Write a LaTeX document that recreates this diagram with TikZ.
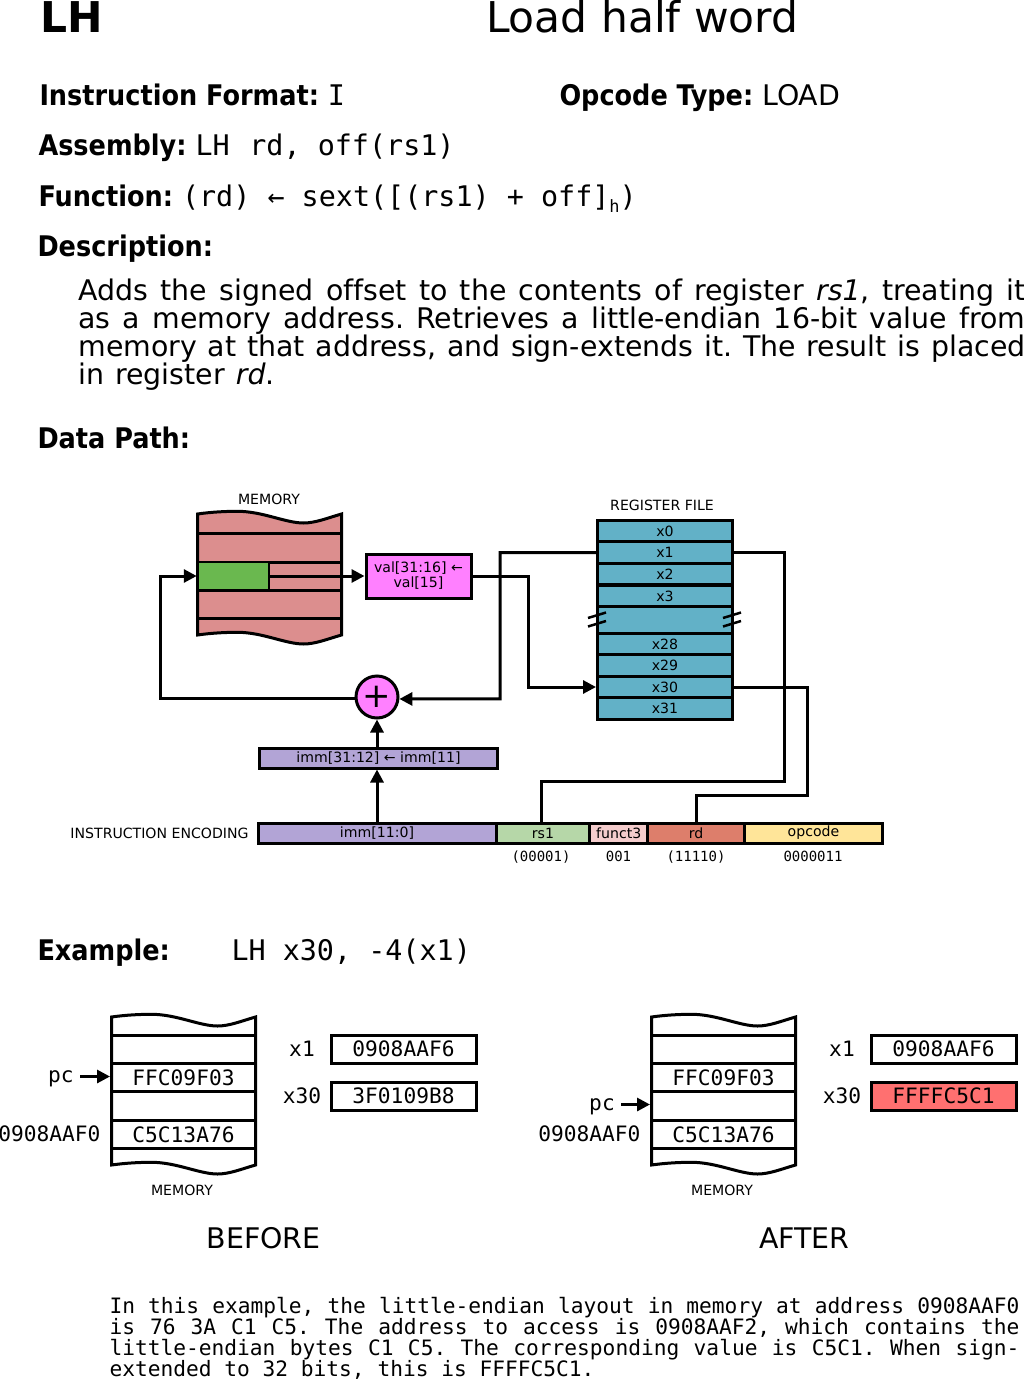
\documentclass[tikz,border=0pt]{standalone}
\usepackage{fontspec}
\setmainfont[Ligatures=NoCommon]{DejaVu Sans}
\newfontfamily\codefont{DejaVu Sans Mono}
\newfontfamily\headfont{DejaVu Sans Condensed}
\usetikzlibrary{arrows.meta}
\definecolor{memfill}{HTML}{DC8E8E}
\definecolor{cellfill}{HTML}{6AB84F}
\definecolor{unitfill}{HTML}{FF80FF}
\definecolor{regfill}{HTML}{62B1C7}
\definecolor{immfill}{HTML}{B2A4D6}
\definecolor{rsfill}{HTML}{B6D7A8}
\definecolor{funcfill}{HTML}{F4CCCC}
\definecolor{rdfill}{HTML}{DD7E6B}
\definecolor{opfill}{HTML}{FFE599}
\definecolor{newfill}{HTML}{FF7070}
\newcommand{\bigsize}{\fontsize{28.4}{28}\selectfont}
\newcommand{\smallsize}{\fontsize{14.1}{15}\selectfont}
\newcommand{\codesize}{\codefont\fontsize{21.2}{22}\selectfont}
\newcommand{\headbold}[1]{{\headfont\bfseries #1}}
\newcommand{\memstack}[5]{
	\draw[fill=#4] (#1,#2) .. controls +(14,-2) and +(-12,0) .. ++(40,-2.7)
		.. controls +(25,0) and +(-18,0) .. ++(66,11.7)
		.. controls +(12,0) and +(-14,4) .. ++(38,-9)
		-- (#1+144,#3)
		.. controls +(-14,4) and +(12,0) .. ++(-38,9)
		.. controls +(-18,0) and +(25,0) .. ++(-66,-11.7)
		.. controls +(-12,0) and +(14,-2) .. ++(-40,2.7)
		-- cycle;
	\foreach \ry in {#5} \draw (#1,\ry) -- (#1+144,\ry);
}
\tikzset{
	heading/.style={anchor=base west,inner sep=0pt,font=\bigsize},
	box/.style={draw,inner sep=0pt,font=\smallsize},
	regrow/.style={box,fill=regfill,minimum width=135,minimum height=21.6},
	field/.style={box,minimum height=20},
	label/.style={inner sep=0pt,font=\smallsize},
	bits/.style={inner sep=0pt,font=\codefont\fontsize{14}{15}\selectfont,text height=10,text depth=3},
	memrow/.style={inner sep=0pt,minimum width=144,minimum height=28,font=\codesize},
	codelabel/.style={inner sep=0pt,font=\codesize,text height=15,text depth=4},
	regbox/.style={draw,inner sep=0pt,minimum width=145,minimum height=28,font=\codesize},
}
\begin{document}
\frenchspacing
\begin{tikzpicture}[line width=3pt,>={Triangle[length=13pt,width=13pt]},x=1pt,y=-1pt]
	\useasboundingbox (0,0) rectangle (1024,1380);
	\node[heading,font=\fontsize{42.4}{42}\selectfont\bfseries] (mnemonic) at (38.5,33) {LH};
	\node[heading,font=\fontsize{42.4}{42}\selectfont] (title) at (484.5,33) {Load half word};
	\node[heading] (format) at (38,106) {\headbold{Instruction Format:} {\codefont I}};
	\node[heading] (optype) at (558,106) {\headbold{Opcode Type:} LOAD};
	\node[heading] (assembly) at (37,156) {\headbold{Assembly:} {\codefont LH\kern2.5pt{} rd, off(rs1)}};
	\node[heading] (function) at (37,207) {\headbold{Function:} {\codefont (rd) ← sext([(rs1) + off]\raisebox{-6pt}{\fontsize{17}{17}\selectfont h})}};
	\node[heading] (descr) at (36,256) {\headbold{Description:}};
	\node[anchor=north west,inner sep=0pt,text width=947pt,align=justify,font=\bigsize] (descrtext) at (77,277.5) {\spaceskip=11pt plus 8pt minus 3pt Adds the signed offset to the contents of register \textit{rs1}, treating it\linebreak as a memory address. Retrieves a little-endian 16-bit value from\linebreak memory at that address, and sign-extends it. The result is placed\linebreak in register \textit{rd}.};
	\node[heading] (datapath) at (36,448) {\headbold{Data Path:}};

	% memory and sign extension
	\node[label] (memlabel) at (269,499) {MEMORY};
	\memstack{197.5}{514}{635}{memfill}{533,562,590,618}
	\node[draw,fill=cellfill,line width=2.5pt,inner sep=0pt,minimum width=71,minimum height=28] (memcell) at (233.5,576) {};
	\node[box,fill=unitfill,minimum width=105,minimum height=44,align=center] (valbox) at (418.5,576) {val[31:16] ←\\val[15]};
	\node[draw,circle,fill=unitfill,inner sep=0pt,minimum size=42,font=\fontsize{34}{34}\selectfont] (adder) at (377,697) {+};
	\node[box,fill=immfill,minimum width=238,minimum height=20] (immext) at (378.5,758) {imm[31:12] ← imm[11]};

	% register file
	\node[label] (reglabel) at (662,505) {REGISTER FILE};
	\foreach \regname/\regy in {x0/531,x1/552.5,x2/574,x3/596,x28/644,x29/665.5,x30/687,x31/708.5}
		\node[regrow] (\regname) at (665,\regy) {\regname};
	\node[regrow,minimum height=27] (gap) at (665,620) {};
	\foreach \slashx in {588,723} {
		\draw[line width=2.5pt] (\slashx,618) -- (\slashx+18,612.5);
		\draw[line width=2.5pt] (\slashx,626.5) -- (\slashx+18,621);
	}

	% instruction encoding
	\node[label,anchor=east] (enclabel) at (250,833) {INSTRUCTION ENCODING};
	\node[field,fill=immfill,minimum width=238] (immf) at (377,833) {imm[11:0]};
	\node[field,fill=rsfill,minimum width=94] (rsf) at (543,833) {rs1\hspace{4pt}};
	\node[field,fill=funcfill,minimum width=57.5] (funcf) at (618.7,833) {funct3};
	\node[field,fill=rdfill,minimum width=97] (rdf) at (696,833) {rd};
	\node[field,fill=opfill,minimum width=138] (opf) at (813.5,833) {opcode};
	\node[bits] (rsbits) at (541,857.7) {(00001)};
	\node[bits] (funcbits) at (618.5,857.7) {001};
	\node[bits] (rdbits) at (696,857.7) {(11110)};
	\node[bits] (opbits) at (813,857.7) {0000011};

	% wires
	\coordinate (addbend) at (500,698.8);
	\coordinate (valbend) at (528,687);
	\coordinate (backbend) at (160,576);
	\coordinate (rsbend) at (784,781);
	\coordinate (rdbend) at (807,795);
	\draw[->] (memcell.east) -- (valbox.west);
	\draw[->] (valbox.east) -| (valbend) -- (x30.west);
	\draw[->] (x1.west) -| (addbend) -- (adder.-5);
	\draw[->] (adder.185) -| (backbend) -- (memcell.west);
	\draw[->] (immext.north -| adder.south) -- (adder.south);
	\draw[->] (immf.north) -- (immf.north |- immext.south);
	\draw (x1.east) -| (rsbend) -| ([xshift=-1.5]rsf.north);
	\draw (x30.east) -| (rdbend) -| (rdf.north);

	% example
	\node[heading] (example) at (36,960) {\headbold{Example:}};
	\node[heading,font=\bigsize\codefont] (exinstr) at (230,960) {LH x30, -4(x1)};

	\memstack{111.5}{1017}{1165}{white}{1035,1063,1091.5,1120,1148}
	\node[memrow] (befcode) at (183.5,1078) {FFC09F03};
	\node[memrow] (befdata) at (183.5,1135) {C5C13A76};
	\node[codelabel] (befpc) at (61,1076.5) {pc};
	\node[codelabel,anchor=east] (befaddr) at (102,1135.5) {0908AAF0};
	\draw[->] (befpc.east)+(5,0) -- (befpc.east -| befcode.west);
	\node[label] (befmem) at (182,1190) {MEMORY};
	\node[codelabel] (befxa) at (302,1051) {x1};
	\node[codelabel] (befxb) at (302,1098) {x30};
	\node[regbox] (befrega) at (403.5,1049) {\raisebox{-1pt}{0908AAF6}};
	\node[regbox] (befregb) at (403.5,1096) {\raisebox{-1pt}{3F0109B8}};
	\node[anchor=center,inner sep=0pt,font=\bigsize] (before) at (263.5,1238) {BEFORE};

	\memstack{651.5}{1017}{1165}{white}{1035,1063,1091.5,1120,1148}
	\node[memrow] (aftcode) at (723.5,1078) {FFC09F03};
	\node[memrow] (aftnext) at (723.5,1105.5) {};
	\node[memrow] (aftdata) at (723.5,1135) {C5C13A76};
	\node[codelabel] (aftpc) at (602,1104.5) {pc};
	\node[codelabel,anchor=east] (aftaddr) at (642,1135.5) {0908AAF0};
	\draw[->] (aftpc.east)+(5,0) -- (aftpc.east -| aftnext.west);
	\node[label] (aftmem) at (722,1190) {MEMORY};
	\node[codelabel] (aftxa) at (842,1051) {x1};
	\node[codelabel] (aftxb) at (842,1098) {x30};
	\node[regbox] (aftrega) at (943.5,1049) {\raisebox{-1pt}{0908AAF6}};
	\node[regbox,fill=newfill] (aftregb) at (943.5,1096) {\raisebox{-1pt}{FFFFC5C1}};
	\node[anchor=center,inner sep=0pt,font=\bigsize] (after) at (804.5,1238) {AFTER};

	\node[anchor=north west,inner sep=0pt,text width=910pt,align=justify,font=\codefont\fontsize{21.2}{21.1}\selectfont] (extext) at (108,1295.5) {In this example, the little-endian layout in memory at address 0908AAF0\linebreak is 76 3A C1 C5. The address to access is 0908AAF2, which contains the\linebreak little-endian bytes C1 C5. The corresponding value is C5C1. When sign-\linebreak extended to 32 bits, this is FFFFC5C1.};
\end{tikzpicture}
\end{document}
